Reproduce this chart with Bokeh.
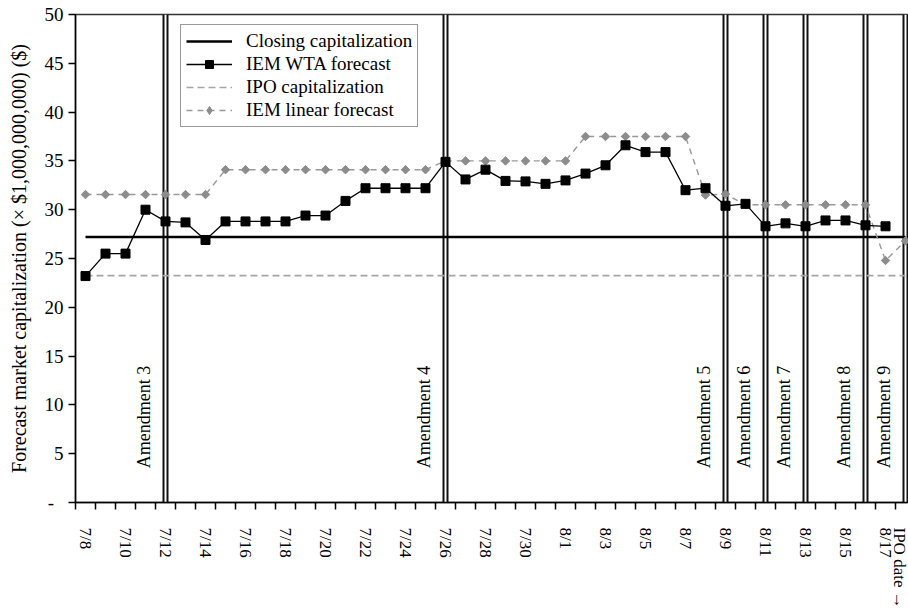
import numpy as np
from bokeh.plotting import figure
from bokeh.models import Range1d, FixedTicker, Legend, LegendItem
from bokeh.core.properties import value
from bokeh.embed import file_html
from bokeh.resources import INLINE

# ---------------- data ----------------
dates = ["7/8", "7/9", "7/10", "7/11", "7/12", "7/13", "7/14", "7/15", "7/16", "7/17",
         "7/18", "7/19", "7/20", "7/21", "7/22", "7/23", "7/24", "7/25", "7/26", "7/27",
         "7/28", "7/29", "7/30", "7/31", "8/1", "8/2", "8/3", "8/4", "8/5", "8/6",
         "8/7", "8/8", "8/9", "8/10", "8/11", "8/12", "8/13", "8/14", "8/15", "8/16",
         "8/17", "8/18"]

wta_forecast = [23.2, 25.5, 25.5, 30.0, 28.8, 28.7, 26.9, 28.8, 28.8, 28.8,
                28.8, 29.4, 29.4, 30.9, 32.2, 32.2, 32.2, 32.2, 34.9, 33.1,
                34.1, 32.95, 32.9, 32.65, 33.0, 33.7, 34.55, 36.6, 35.9, 35.9,
                32.0, 32.2, 30.4, 30.6, 28.3, 28.6, 28.3, 28.9, 28.9, 28.4,
                28.3, float("nan")]

linear_forecast = [31.55, 31.55, 31.55, 31.55, 31.55, 31.55, 31.55, 34.1, 34.1, 34.1,
                   34.1, 34.1, 34.1, 34.1, 34.1, 34.1, 34.1, 34.1, 35.0, 35.0,
                   35.0, 35.0, 35.0, 35.0, 35.0, 37.5, 37.5, 37.5, 37.5, 37.5,
                   37.5, 31.5, 31.6, 30.5, 30.5, 30.5, 30.5, 30.5, 30.5, 30.5,
                   24.8, 26.8]

closing_cap = 27.2
ipo_cap = 23.25

tick_dates = ["7/8", "7/10", "7/12", "7/14", "7/16", "7/18", "7/20", "7/22", "7/24",
              "7/26", "7/28", "7/30", "8/1", "8/3", "8/5", "8/7", "8/9", "8/11",
              "8/13", "8/15", "8/17", "8/18"]
tick_labels = ["7/8", "7/10", "7/12", "7/14", "7/16", "7/18", "7/20", "7/22", "7/24",
               "7/26", "7/28", "7/30", "8/1", "8/3", "8/5", "8/7", "8/9", "8/11",
               "8/13", "8/15", "8/17", "IPO date \u2192"]

amend_dates = ["7/12", "7/26", "8/9", "8/11", "8/13", "8/16", "8/18"]
amend_labels = ["Amendment 3", "Amendment 4", "Amendment 5", "Amendment 6",
                "Amendment 7", "Amendment 8", "Amendment 9"]

y_ticks = [0, 5, 10, 15, 20, 25, 30, 35, 40, 45, 50]
y_min, y_max = 0, 50

# ---------------- figure ----------------
FONT = "Liberation Serif"
pos = {d: i for i, d in enumerate(dates)}
xi = list(range(len(dates)))

p = figure(width=908, height=616, output_backend="svg", toolbar_location=None,
           x_range=Range1d(-0.5, len(dates) - 0.85), y_range=Range1d(y_min, y_max),
           min_border_left=75, min_border_right=0, min_border_top=14, min_border_bottom=114)
p.xgrid.visible = False
p.ygrid.visible = False
p.outline_line_color = "#333333"
p.outline_line_width = 1.5
p.background_fill_color = "white"
p.border_fill_color = "white"

# amendment double lines
ax = [pos[d] for d in amend_dates]
p.segment(x0=ax, y0=[y_min] * len(ax), x1=ax, y1=[y_max] * len(ax),
          line_color="#111111", line_width=6)
p.segment(x0=ax, y0=[y_min] * len(ax), x1=ax, y1=[y_max] * len(ax),
          line_color="white", line_width=2)
p.text(x=ax, y=[3.5] * len(ax), text=amend_labels, angle=np.pi / 2,
       text_font=value(FONT), text_font_size="18px", text_color="black",
       text_align="left", text_baseline="alphabetic", x_offset=-22)

# series
r_ipo = p.line(xi, [ipo_cap] * len(xi), line_color="#a6a6a6", line_width=1.6,
               line_dash="7 4")
r_close = p.line(xi, [closing_cap] * len(xi), line_color="black", line_width=2.6)
r_lin_l = p.line(xi, linear_forecast, line_color="#999999", line_width=1.4,
                 line_dash="6 5")
r_lin_m = p.scatter(xi, linear_forecast, marker="square", angle=np.pi / 4, size=6,
                    fill_color="#8c8c8c", line_color="#8c8c8c")
# legend key only (size 0 in plot; legend draws its own marker size)
r_lin_key = p.scatter(xi, linear_forecast, marker="diamond", size=0,
                      fill_color="#8c8c8c", line_color="#8c8c8c")
r_wta_l = p.line(xi, wta_forecast, line_color="black", line_width=1.3)
r_wta_m = p.scatter(xi, wta_forecast, marker="square", size=9,
                    fill_color="black", line_color="black")

# legend
legend = Legend(items=[
    LegendItem(label="Closing capitalization", renderers=[r_close]),
    LegendItem(label="IEM WTA forecast", renderers=[r_wta_l, r_wta_m]),
    LegendItem(label="IPO capitalization", renderers=[r_ipo]),
    LegendItem(label="IEM linear forecast", renderers=[r_lin_l, r_lin_key]),
], location=(105, 375))
legend.label_text_font = FONT
legend.label_text_font_size = "19px"
legend.label_text_color = "black"
legend.glyph_width = 46
legend.glyph_height = 20
legend.label_height = 20
legend.spacing = 1
legend.padding = 5
legend.margin = 0
legend.label_standoff = 14
legend.border_line_color = "#333333"
legend.border_line_width = 1.2
legend.background_fill_alpha = 1.0
p.add_layout(legend, "center")

# x axis
xax = p.xaxis[0]
xax.ticker = FixedTicker(ticks=[pos[d] for d in tick_dates],
                         minor_ticks=[i - 0.5 for i in xi] + [len(xi) - 0.5])
xax.major_label_overrides = {pos[d]: lab for d, lab in zip(tick_dates, tick_labels)}
xax.major_label_orientation = "vertical"
xax.major_tick_out = 0
xax.major_tick_in = 0
xax.minor_tick_out = 7
xax.minor_tick_in = 0
xax.minor_tick_line_color = "black"
xax.minor_tick_line_width = 1.5
xax.axis_line_color = "black"
xax.axis_line_width = 1.5
xax.major_label_standoff = 18
xax.major_label_text_font = FONT
xax.major_label_text_font_size = "17px"
xax.major_label_text_color = "black"

# y axis
yax = p.yaxis[0]
yax.ticker = FixedTicker(ticks=y_ticks)
yax.major_label_overrides = {0: "-  "}
yax.major_tick_out = 7
yax.major_tick_in = 0
yax.minor_tick_out = 0
yax.minor_tick_in = 0
yax.major_tick_line_color = "black"
yax.major_tick_line_width = 1.5
yax.axis_line_color = "black"
yax.axis_line_width = 1.5
yax.major_label_standoff = 5
yax.major_label_text_font = FONT
yax.major_label_text_font_size = "19px"
yax.major_label_text_color = "black"
yax.axis_label = "Forecast market capitalization (\u00d7 $1,000,000,000) ($)"
yax.axis_label_text_font = FONT
yax.axis_label_text_font_size = "20px"
yax.axis_label_text_font_style = "normal"
yax.axis_label_text_color = "black"
yax.axis_label_standoff = 12

open("out.html", "w").write(file_html(p, INLINE))
